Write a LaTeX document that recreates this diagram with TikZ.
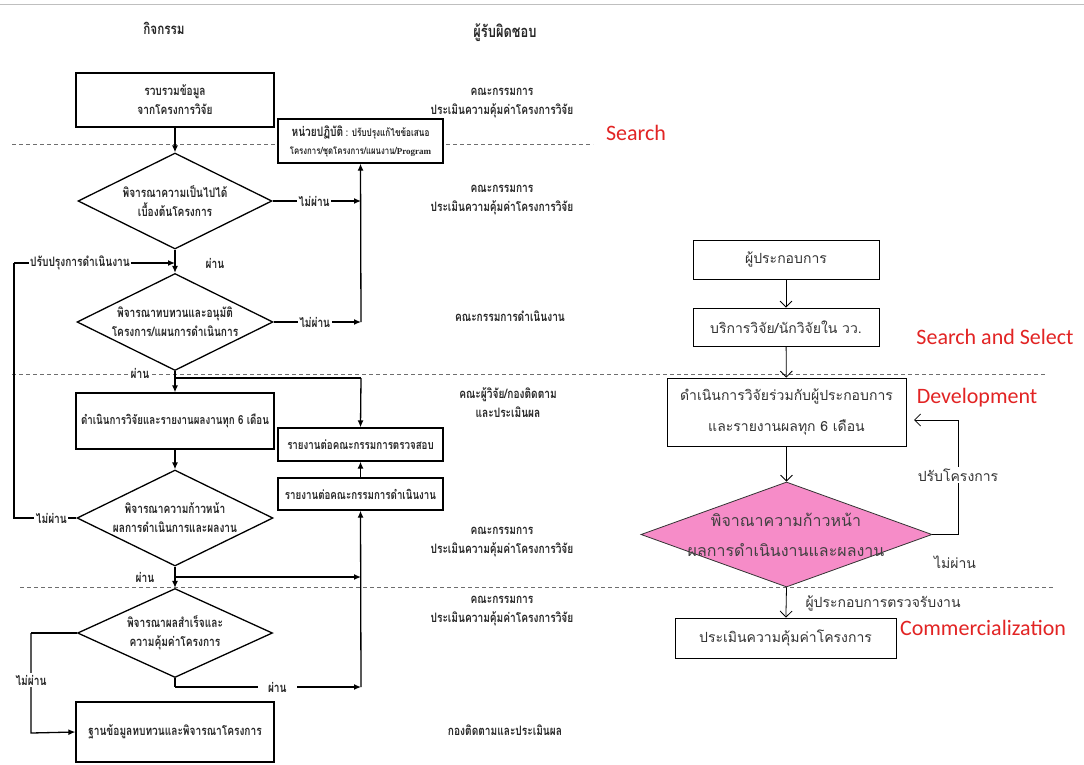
\documentclass[tikz,border=0pt]{standalone}
\usepackage{fontspec}
\usetikzlibrary{shapes.geometric,arrows.meta}
\newfontfamily\thaifont[Script=Thai]{Loma}
\newfontfamily\thaicond[Script=Thai,FakeStretch=0.78]{Loma}
\newfontfamily\latinsans{Carlito}
\newfontfamily\latinserif{Liberation Serif}
\definecolor{redlab}{RGB}{226,36,36}
\definecolor{pinkd}{RGB}{246,140,200}
\definecolor{dashgray}{RGB}{110,110,110}
\tikzset{
  lt/.style={font=\thaicond\bfseries\fontsize{13}{19}\selectfont, text=black!85, align=center},
  lmid/.style={font=\thaicond\bfseries\fontsize{12.5}{19}\selectfont, text=black!85, align=center},
  lhd/.style={font=\thaicond\bfseries\fontsize{15}{19}\selectfont, text=black!85, align=center},
  lbox/.style={draw, line width=1.3pt, rectangle, inner sep=0pt, fill=white},
  ldia/.style={draw, line width=1.3pt, diamond, inner sep=0pt, aspect=2},
  larr/.style={line width=1.3pt, -{Latex[length=7pt,width=6pt]}},
  lline/.style={line width=1.3pt},
  lab/.style={lt, fill=white, inner sep=1.5pt},
  rt/.style={font=\thaifont\fontsize{14}{31}\selectfont, text=black!80, align=center},
  rbox/.style={draw, line width=0.8pt, rectangle, inner sep=0pt},
  rarr/.style={line width=0.8pt, -{Straight Barb[length=6pt,width=12pt]}},
  rline/.style={line width=0.8pt},
  redt/.style={font=\latinsans\fontsize{22}{26}\selectfont, text=redlab},
  dsh/.style={dashgray, line width=0.8pt, dash pattern=on 4pt off 3pt},
}
\begin{document}
\begin{tikzpicture}[x=1pt,y=-1pt]
\useasboundingbox (0,0) rectangle (1084,764);
\fill[white] (0,0) rectangle (1084,764);
\draw[black!25, line width=1pt] (0,4) -- (1084,4);

% dashed separators
\draw[dsh] (12,144) -- (593,144);
\draw[dsh] (12,374) -- (1047,374);
\draw[dsh] (20,587) -- (1055,587);

% headers
\node[lhd] (h1) at (164,28) {กิจกรรม};
\node[lhd, font=\thaicond\bfseries\fontsize{16.5}{19}\selectfont] (h2) at (505,33) {ผู้รับผิดชอบ};

% responsible column
\node[lt] (r1) at (502,103) {คณะกรรมการ\\ประเมินความคุ้มค่าโครงการวิจัย};
\node[lt] (r2) at (502,200) {คณะกรรมการ\\ประเมินความคุ้มค่าโครงการวิจัย};
\node[lt] (r3) at (510,316) {คณะกรรมการดำเนินงาน};
\node[lt] (r4) at (508,403) {คณะผู้วิจัย/กองติดตาม\\และประเมินผล};
\node[lt] (r5) at (502,542) {คณะกรรมการ\\ประเมินความคุ้มค่าโครงการวิจัย};
\node[lt] (r6) at (502,611) {คณะกรรมการ\\ประเมินความคุ้มค่าโครงการวิจัย};
\node[lt] (r7) at (505,730) {กองติดตามและประเมินผล};

% left flowchart nodes
\node[lbox, lt, minimum width=198pt, minimum height=54pt] (b1) at (175,100) {รวบรวมข้อมูล\\จากโครงการวิจัย};
\node[lbox, minimum width=165pt, minimum height=44pt, align=center, text=black!85,
      font=\thaicond\bfseries\fontsize{10}{18}\selectfont] (hp) at (360.5,141)
  {{\fontsize{13}{18}\selectfont หน่วยปฏิบัติ}{\fontsize{10.5}{18}\selectfont\ : ปรับปรุงแก้ไขข้อเสนอ}\\
   {\fontsize{10}{18}\selectfont โครงการ/ชุดโครงการ/แผนงาน/\latinserif\bfseries\fontsize{9}{18}\selectfont Program}};
\node[ldia, lt, minimum width=194pt, minimum height=96pt] (d1) at (175,201) {พิจารณาความเป็นไปได้\\เบื้องต้นโครงการ};
\node[ldia, lt, minimum width=196pt, minimum height=97pt] (d2) at (175,322) {พิจารณาทบทวนและอนุมัติ\\โครงการ/แผนการดำเนินการ};
\node[lbox, lmid, minimum width=198pt, minimum height=56pt] (b3) at (175,421) {ดำเนินการวิจัยและรายงานผลงานทุก 6 เดือน};
\node[lbox, lmid, minimum width=165pt, minimum height=33pt] (b4) at (360.5,444.5) {รายงานต่อคณะกรรมการตรวจสอบ};
\node[lbox, lmid, minimum width=165pt, minimum height=32pt] (b5) at (360.5,494) {รายงานต่อคณะกรรมการดำเนินงาน};
\node[ldia, lt, minimum width=196pt, minimum height=96pt] (d3) at (175,518) {พิจารณาความก้าวหน้า\\ผลการดำเนินการและผลงาน};
\node[ldia, lt, minimum width=195pt, minimum height=89pt] (d4) at (175,633) {พิจารณาผลสำเร็จและ\\ความคุ้มค่าโครงการ};
\node[lbox, lt, minimum width=198pt, minimum height=60pt] (b6) at (175,732) {ฐานข้อมูลทบทวนและพิจารณาโครงการ};

% helper coordinates
\coordinate (j1) at (361,201);
\coordinate (j2) at (361,322);
\coordinate (jt) at (175,263);
\coordinate (lt1) at (14,263);
\coordinate (lt2) at (14,518);
\coordinate (br1) at (175,378);
\coordinate (br2) at (361,378);
\coordinate (p3) at (175,577);
\coordinate (p3r) at (361,577);
\coordinate (p4) at (175,687);
\coordinate (p4r) at (361,687);
\coordinate (n4a) at (31,633);
\coordinate (n4b) at (31,733);

% left connectors
\draw[larr] (b1) -- (d1);
\draw[larr] (d1.east) -- node[lab, pos=0.47] (l1) {ไม่ผ่าน} (j1);
\draw[larr] (d2.east) -- node[lab, pos=0.47] (l2) {ไม่ผ่าน} (j2);
\draw[larr] (j2) -- (hp.south);
\draw[larr] (d1.south) -- (d2.north);
\node[lt] (l3) at (215,263) {ผ่าน};
\draw[lline] (d3.west) -- node[lab, pos=0.4] (l4) {ไม่ผ่าน} (lt2) -- (lt1);
\draw[larr] (lt1) -- node[lab, pos=0.41] (l5) {ปรับปรุงการดำเนินงาน} (jt);
\draw[larr] (d2.south) -- (b3.north);
\node[lt, fill=white, inner sep=0.5pt] (l6) at (140,373) {ผ่าน};
\draw[lline] (br1) -- (br2);
\draw[larr] (br2) -- (b4.north);
\draw[larr] (b3.south) -- (d3.north);
\draw[larr] (b5.north) -- (b4.south);
\draw[lline] (d3.south) -- (p3);
\draw[larr] (p3) -- (p3r);
\draw[larr] (p3) -- (d4.north);
\node[lt] (l7) at (145,577) {ผ่าน};
\draw[lline] (d4.south) -- (p4);
\draw[larr] (p4) -- node[lab, pos=0.55, inner xsep=10pt] (l8) {ผ่าน} (p4r);
\draw[larr] (p4r) -- (b5.south);
\draw[lline] (d4.west) -- (n4a);
\draw[larr] (n4a) -- node[lab, pos=0.47] (l9) {ไม่ผ่าน} (n4b) -- (b6.west);

% right flowchart
\node[rbox, rt, minimum width=186pt, minimum height=39pt] (rA) at (786,259.5) {ผู้ประกอบการ};
\node[rbox, rt, minimum width=186pt, minimum height=38pt] (rB) at (786,327) {บริการวิจัย/นักวิจัยใน วว.};
\node[rbox, rt, minimum width=239pt, minimum height=68pt] (rC) at (786.5,412) {ดำเนินการวิจัยร่วมกับผู้ประกอบการ\\และรายงานผลทุก 6 เดือน};
\node[draw=black!80, line width=0.8pt, fill=pinkd, diamond, inner sep=0pt, aspect=2.7, minimum width=291pt, minimum height=105pt] (rD) at (786.5,534.5) {};
\node[rt, font=\thaifont\fontsize{16}{30}\selectfont, text=black!75] (rDt) at (786,535) {พิจาณาความก้าวหน้า\\ผลการดำเนินงานและผลงาน};
\node[rbox, rt, minimum width=221pt, minimum height=40pt] (rE) at (785.5,638) {ประเมินความคุ้มค่าโครงการ};

\coordinate (q1) at (958,534.5);
\coordinate (q2) at (958,420);
\coordinate (q3) at (906,420);

\draw[rarr] (rA) -- (rB);
\draw[rarr] (rB) -- (rC);
\draw[rarr] (rC) -- (rD.north);
\draw[rarr] (rD.south) -- (rE);
\draw[rline] (rD.east) -- (q1) -- node[rt, fill=white, inner sep=2pt, pos=0.52] (rl1) {ปรับโครงการ} (q2);
\draw[rarr, shorten >=8pt] (q2) -- (q3);
\node[rt] (rl2) at (955,562) {ไม่ผ่าน};
\node[rt, anchor=west] (rl3) at (802,603) {ผู้ประกอบการตรวจรับงาน};

% red phase labels
\node[redt] (s1) at (636,133) {Search};
\node[redt] (s2) at (995,337) {Search and Select};
\node[redt] (s3) at (977,398) {Development};
\node[redt] (s4) at (983,628) {Commercialization};
\end{tikzpicture}
\end{document}
